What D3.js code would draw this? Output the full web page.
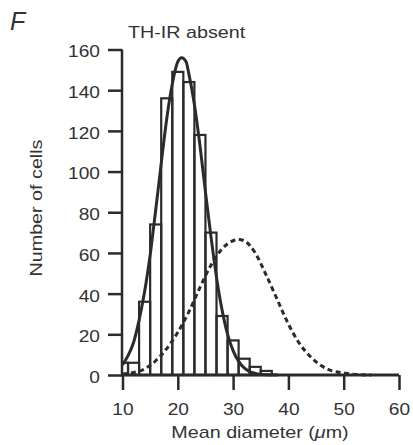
<!DOCTYPE html>
<html><head><meta charset="utf-8">
<script src="https://cdn.jsdelivr.net/npm/d3@7"></script>
<style>
html,body{margin:0;padding:0;background:#fff;}
svg{display:block;font-family:"Liberation Sans",Arial,sans-serif;}
</style></head>
<body>
<svg id="chart" width="413" height="445"></svg>
<script>
// Histogram bins (2 µm wide, centred on even diameters)
const binCenters = [10, 12, 14, 16, 18, 20, 22, 24, 26, 28, 30, 32, 34, 36];
const binCounts  = [6, 6, 36, 74, 136, 149, 144, 118, 70, 29, 17, 8, 4, 2];
const binWidth = 2;

// Solid fitted curve
const solidX = [10, 11, 12, 13, 14, 15, 16, 17, 18, 19, 20, 20.7, 21.5, 22, 23, 24, 25, 26, 27, 28, 29, 30, 31, 32, 33, 34, 36, 38];
const solidY = [5, 9.5, 16, 27, 41, 59, 81, 104, 126, 143, 154, 156, 154, 148, 133, 113, 90, 68, 48, 32, 20, 12, 6.7, 3.5, 1.7, 0.8, 0.1, 0];

// Dashed curve
const dashX = [10, 12, 14, 16, 18, 20, 22, 24, 26, 28, 30, 31, 32, 34, 36, 38, 40, 42, 44, 46, 48, 50, 52, 55];
const dashY = [0.5, 1.2, 3, 7, 13, 21, 31, 43, 54, 62, 66, 66.6, 66, 60, 49, 37, 25, 15.5, 9, 4.5, 2, 1, 0.3, 0];

const xTicks = [10, 20, 30, 40, 50, 60];
const yTicks = [0, 20, 40, 60, 80, 100, 120, 140, 160];

const ink = "#2b2b2b";
const txt = "#333";
const sx = 1.16; // horizontal stretch of the printed lettering
const svg = d3.select("#chart");
const x = d3.scaleLinear().domain([10, 60]).range([122.5, 399]);
const y = d3.scaleLinear().domain([0, 160]).range([375, 49.5]);

svg.append("defs").append("clipPath").attr("id", "clip")
  .append("rect").attr("x", x(10)).attr("y", 0).attr("width", 400).attr("height", 445);

const plot = svg.append("g").attr("clip-path", "url(#clip)");

// bars
plot.selectAll("rect.bar").data(binCenters).join("rect")
  .attr("class", "bar")
  .attr("x", (d) => x(d - binWidth / 2))
  .attr("width", (d) => x(d + binWidth / 2) - x(d - binWidth / 2))
  .attr("y", (d, i) => y(binCounts[i]))
  .attr("height", (d, i) => y(0) - y(binCounts[i]))
  .attr("fill", "none").attr("stroke", ink).attr("stroke-width", 2.2);

const line = d3.line().x((d) => x(d[0])).y((d) => y(d[1])).curve(d3.curveMonotoneX);

plot.append("path").datum(dashX.map((v, i) => [v, dashY[i]]))
  .attr("d", line).attr("fill", "none").attr("stroke", ink)
  .attr("stroke-width", 3).attr("stroke-dasharray", "5,3.5");

plot.append("path").datum(solidX.map((v, i) => [v, solidY[i]]))
  .attr("d", line).attr("fill", "none").attr("stroke", ink)
  .attr("stroke-width", 3);

// y axis
const yAxis = d3.axisLeft(y).tickValues(yTicks).tickSize(14).tickPadding(8).tickFormat(d3.format("d"));
const gy = svg.append("g").attr("transform", `translate(${x(10) - 0.5},0)`).call(yAxis);
gy.select(".domain").attr("stroke", ink).attr("stroke-width", 2.5).attr("d", `M0,${y(0)}V${y(160)}`);
gy.selectAll(".tick line").attr("stroke", ink).attr("stroke-width", 2.5);
gy.selectAll(".tick text").attr("fill", txt).attr("font-size", 16.5).attr("dy", "0.45em")
  .attr("font-family", "Liberation Sans, Arial, sans-serif")
  .attr("x", -22 / sx).attr("transform", `scale(${sx},1)`);

// x axis
const xAxis = d3.axisBottom(x).tickValues(xTicks).tickSize(15).tickPadding(13).tickFormat(d3.format("d"));
const gx = svg.append("g").attr("transform", `translate(0,${y(0)})`).call(xAxis);
gx.select(".domain").attr("stroke", ink).attr("stroke-width", 3).attr("d", `M${x(10) - 1.5},0H${x(60)}`);
gx.selectAll(".tick line").attr("stroke", ink).attr("stroke-width", 2.5);
gx.selectAll(".tick text").attr("fill", txt).attr("font-size", 16.5)
  .attr("font-family", "Liberation Sans, Arial, sans-serif")
  .attr("transform", `scale(${sx},1)`);

// titles
svg.append("text").attr("x", 10).attr("y", 30).attr("font-size", 25).attr("font-style", "italic")
  .attr("fill", txt).text("F");
svg.append("text").attr("transform", `translate(128,38) scale(${sx},1)`)
  .attr("font-size", 17).attr("fill", txt).text("TH-IR absent");
svg.append("text").attr("transform", `translate(42,208) rotate(-90) scale(${sx},1)`).attr("text-anchor", "middle")
  .attr("font-size", 17).attr("fill", txt).text("Number of cells");
const xt = svg.append("text").attr("transform", `translate(260,438) scale(${sx},1)`).attr("text-anchor", "middle")
  .attr("font-size", 17).attr("fill", txt);
xt.append("tspan").text("Mean diameter (");
xt.append("tspan").attr("font-style", "italic").text("\u03bc");
xt.append("tspan").text("m)");
</script>
</body></html>
